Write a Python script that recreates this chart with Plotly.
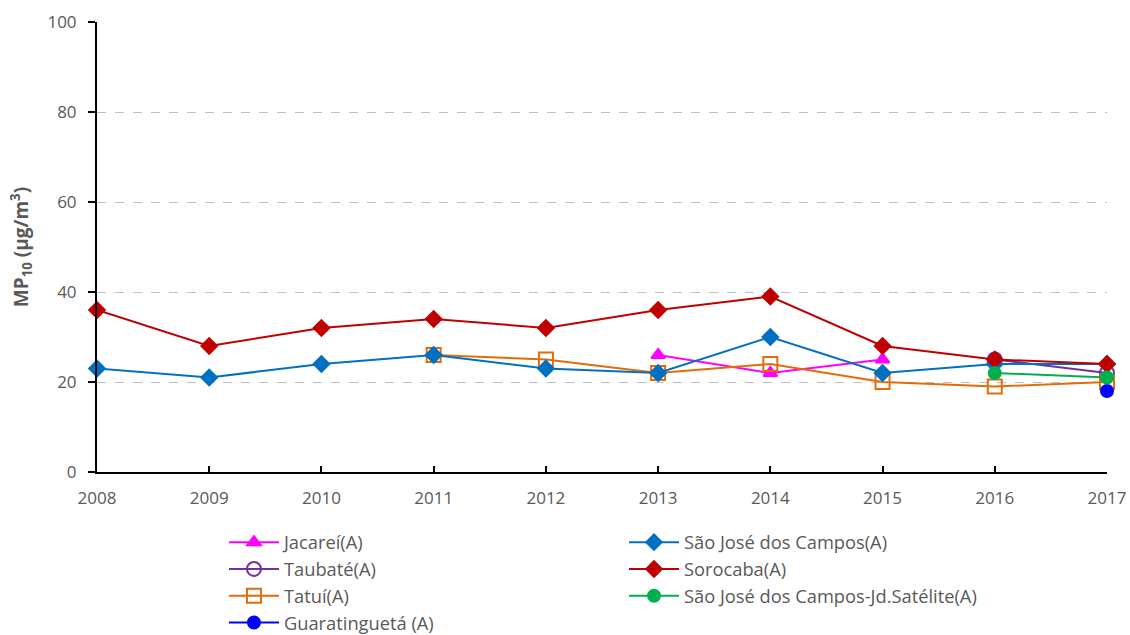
import plotly.graph_objects as go

years = [2008, 2009, 2010, 2011, 2012, 2013, 2014, 2015, 2016, 2017]

jacarei_x = [2013, 2014, 2015]
jacarei_y = [26, 22, 25]

sjc_x = years
sjc_y = [23, 21, 24, 26, 23, 22, 30, 22, 24, 24]

taubate_x = [2016, 2017]
taubate_y = [25, 22]

sorocaba_x = years
sorocaba_y = [36, 28, 32, 34, 32, 36, 39, 28, 25, 24]

tatui_x = [2011, 2012, 2013, 2014, 2015, 2016, 2017]
tatui_y = [26, 25, 22, 24, 20, 19, 20]

sjcjd_x = [2016, 2017]
sjcjd_y = [22, 21]

guara_x = [2017]
guara_y = [18]

FONT = "'Open Sans', Lato, sans-serif"
GRAY = "#595959"

series = [
    ("Jacareí(A)", jacarei_x, jacarei_y, "#FF00FF", "triangle-up", 12, "legend"),
    ("Taubaté(A)", taubate_x, taubate_y, "#7030A0", "circle-open", 14, "legend"),
    ("Tatuí(A)", tatui_x, tatui_y, "#E36C0A", "square-open", 14, "legend"),
    ("Guaratinguetá (A)", guara_x, guara_y, "#0000FF", "circle", 12, "legend"),
    ("São José dos Campos(A)", sjc_x, sjc_y, "#0070C0", "diamond", 12, "legend2"),
    ("Sorocaba(A)", sorocaba_x, sorocaba_y, "#C00000", "diamond", 12, "legend2"),
    ("São José dos Campos-Jd.Satélite(A)", sjcjd_x, sjcjd_y, "#00B050", "circle", 12, "legend2"),
]

fig = go.Figure()
for name, x, y, color, sym, size, leg in series:
    fig.add_trace(go.Scatter(
        x=x, y=y, name=name, mode="lines+markers",
        line=dict(color=color, width=2),
        marker=dict(symbol=sym, size=size, color=color,
                    line=dict(color=color, width=2)),
        cliponaxis=False, legend=leg,
    ))

legend_common = dict(
    orientation="v", yanchor="top", xanchor="left",
    font=dict(size=18.3, color=GRAY, family=FONT), tracegroupgap=0,
    itemwidth=50, traceorder="normal", bgcolor="rgba(0,0,0,0)",
)

fig.update_layout(
    width=1130, height=635,
    margin=dict(l=97, r=23, t=22, b=163, autoexpand=False),
    plot_bgcolor="white", paper_bgcolor="white",
    font=dict(family=FONT, color=GRAY, size=17),
    showlegend=True,
    legend=dict(x=0.1257, y=-0.115, **legend_common),
    legend2=dict(x=0.5218, y=-0.115, **legend_common),
    xaxis=dict(
        range=[2008, 2017], tickmode="array", tickvals=years,
        ticktext=[str(v) for v in years],
        showline=True, linecolor="black", linewidth=2,
        ticks="inside", ticklen=6, tickcolor="black", tickwidth=1.5,
        showgrid=False, zeroline=False, ticklabelstandoff=10,
        tickfont=dict(size=17, color=GRAY),
    ),
    yaxis=dict(
        range=[0, 100], tickvals=[0, 20, 40, 60, 80, 100],
        showline=True, linecolor="black", linewidth=2,
        ticks="outside", ticklen=7, tickcolor="black", tickwidth=1.5,
        showgrid=True, gridcolor="#BFBFBF", griddash="dash", gridwidth=1,
        zeroline=False, ticklabelstandoff=8,
        tickfont=dict(size=17, color=GRAY),
        title=dict(text="<b>MP<sub>10</sub> (µg/m<sup>3</sup>)</b>",
                   font=dict(size=19, color=GRAY), standoff=14),
    ),
)

fig.write_html(
    "out.html",
    config={"displayModeBar": False},
    post_script="document.body.style.margin='0';document.body.style.overflow='hidden';",
)
